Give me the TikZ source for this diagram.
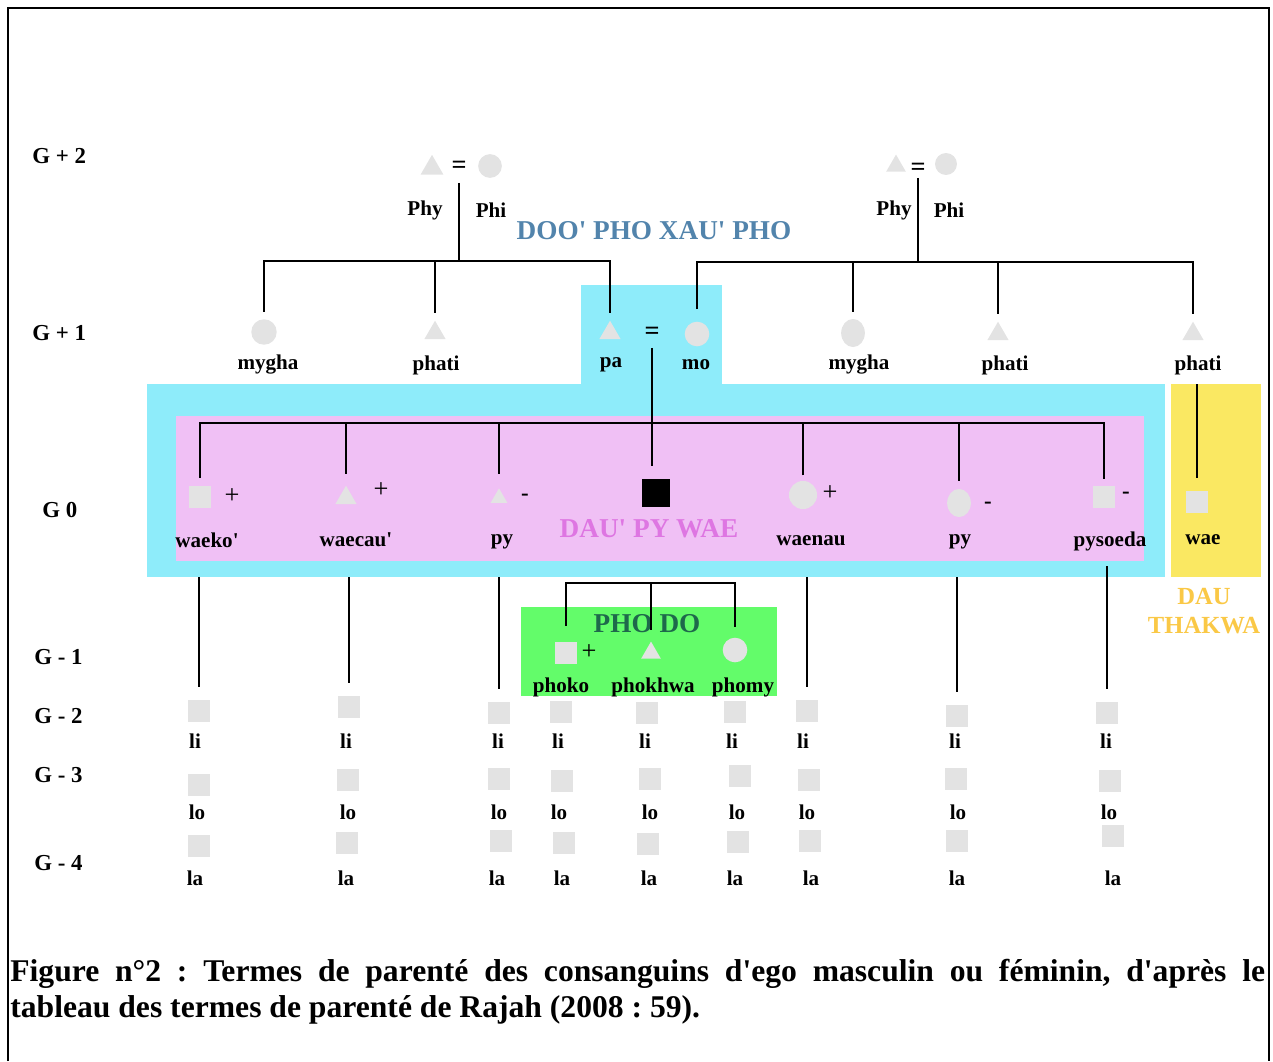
\documentclass[tikz,border=0pt]{standalone}
\usepackage{fontspec}
\setmainfont{Liberation Serif}[Ligatures=TeXOff]
\usetikzlibrary{shapes.geometric}

\definecolor{symgray}{RGB}{227,227,227}
\definecolor{boxcyan}{RGB}{142,236,250}
\definecolor{boxpink}{RGB}{240,192,245}
\definecolor{boxyellow}{RGB}{250,232,98}
\definecolor{boxgreen}{RGB}{99,252,106}
\definecolor{txtblue}{RGB}{82,132,172}
\definecolor{txtpink}{RGB}{222,118,226}
\definecolor{txtgreen}{RGB}{30,105,75}
\definecolor{txtgold}{RGB}{250,200,70}

\begin{document}
\begin{tikzpicture}[x=0.02cm,y=-0.02cm,
  tri/.style={regular polygon,regular polygon sides=3,fill=symgray,inner sep=0pt,minimum size=15pt},
  circ/.style={circle,fill=symgray,inner sep=0pt,minimum size=14pt},
  oval/.style={ellipse,fill=symgray,inner sep=0pt,minimum width=13.5pt,minimum height=16pt},
  sq/.style={rectangle,fill=symgray,inner sep=0pt,minimum size=12.5pt},
  term/.style={font=\bfseries\fontsize{12}{14}\selectfont,inner sep=1pt},
  gen/.style={font=\bfseries\fontsize{13}{15}\selectfont,anchor=west,inner sep=0pt},
  sign/.style={font=\fontsize{15}{17}\selectfont,inner sep=0pt},
  minus/.style={font=\bfseries\fontsize{13}{15}\selectfont,inner sep=0pt},
  eq/.style={font=\bfseries\fontsize{15}{17}\selectfont,inner sep=0pt},
  title/.style={font=\bfseries\fontsize{15.5}{18}\selectfont,inner sep=0pt},
  ln/.style={line width=1.1pt}
]
\useasboundingbox (0,0) rectangle (1273,1061);
\draw[line width=1.2pt] (8,1061) -- (8,8) -- (1269,8) -- (1269,1061);

% coloured groups
\fill[boxcyan] (581,285) rectangle (722,384);
\fill[boxcyan] (147,384) coordinate (cyanN) rectangle (1165,577) coordinate (cyanS);
\fill[boxpink] (176,416) rectangle (1144,561) coordinate (pinkS);
\fill[boxyellow] (1171,384) coordinate (yelN) rectangle (1261,577);
\fill[boxgreen] (521,607) rectangle (777,696);

% generations
\node[gen] (g2) at (32,156) {G + 2};
\node[gen] (g1) at (32,333) {G + 1};
\node[gen] (g0) at (42,510) {G 0};
\node[gen] (gm1) at (34,657) {G - 1};
\node[gen] (gm2) at (34,716) {G - 2};
\node[gen] (gm3) at (34,775) {G - 3};
\node[gen] (gm4) at (34,863) {G - 4};

% G+2
\node[tri] (phyL) at (432,168) {};
\node[eq] (eqL) at (459,167) {=};
\node[circ,minimum size=13.5pt] (phiL) at (490,166) {};
\node[term] (phyLt) at (425,210) {Phy};
\node[term] (phiLt) at (491,210) {Phi};
\node[title,text=txtblue] (doo) at (654,231) {DOO' PHO XAU' PHO};

\node[tri,minimum size=13pt] (phyR) at (896,166) {};
\node[eq] (eqR) at (918,169) {=};
\node[circ,minimum size=12.5pt] (phiR) at (946,164) {};
\node[term] (phyRt) at (894,210) {Phy};
\node[term] (phiRt) at (949,210) {Phi};

% G+1
\node[circ,minimum size=14.5pt] (myL) at (264,332) {};
\node[term] (myLt) at (268,365) {mygha};
\node[tri,minimum size=14pt] (phL) at (435,333) {};
\node[term] (phLt) at (436,365) {phati};
\node[tri,minimum size=14pt] (pa) at (610,333) {};
\node[term] (pat) at (611,365) {pa};
\node[eq] (eqM) at (652,333) {=};
\node[circ] (mo) at (697,334) {};
\node[term] (mot) at (696,365) {mo};
\node[oval] (myR) at (853,333) {};
\node[term] (myRt) at (859,365) {mygha};
\node[tri,minimum size=14pt] (phR) at (998,334) {};
\node[term] (phRt) at (1005,365) {phati};
\node[tri,minimum size=14pt] (phR2) at (1193,334) {};
\node[term] (phR2t) at (1198,365) {phati};

% G 0
\node[sq] (wk) at (200,497) {};
\node[sign] (wkp) at (232,496) {+};
\node[term] (wkt) at (207,540) {waeko'};
\node[tri,minimum size=14pt] (wc) at (346,498) {};
\node[sign] (wcp) at (381,490) {+};
\node[term] (wct) at (356,540) {waecau'};
\node[tri,minimum size=11pt] (py1) at (499,498) {};
\node[minus] (py1m) at (525,497) {-};
\node[term] (py1t) at (502,542) {py};
\node[sq,fill=black,minimum size=16pt] (ego) at (656,493) {};
\node[title,text=txtpink] (dau) at (649,529) {DAU' PY WAE};
\node[circ,minimum size=16pt] (wn) at (803,495) {};
\node[sign] (wnp) at (830,493) {+};
\node[term] (wnt) at (811,541) {waenau};
\node[oval] (py2) at (959,503) {};
\node[minus] (py2m) at (988,505) {-};
\node[term] (py2t) at (960,542) {py};
\node[sq] (ps) at (1104,497) {};
\node[minus] (psm) at (1126,495) {-};
\node[term] (pst) at (1110,541) {pysoeda};
\node[sq] (wae) at (1197,502) {};
\node[term] (waet) at (1203,540) {wae};
\node[font=\bfseries\fontsize{14}{17}\selectfont,text=txtgold,align=center,inner sep=0pt] (thakwa) at (1204,611) {DAU\\THAKWA};

% G-1
\node[title,text=txtgreen] (phodo) at (647,624) {PHO DO};
\node[sq] (pk) at (566,653) {};
\node[sign] (pkp) at (589,652) {+};
\node[term] (pkt) at (561,687) {phoko};
\node[tri,minimum size=13pt] (pw) at (651,653) {};
\node[term] (pwt) at (653,687) {phokhwa};
\node[circ] (pm) at (735,650) {};
\node[term] (pmt) at (743,687) {phomy};

% G-2 to G-4
\node[sq] (li1) at (199,711) {}; \node[term] (li1t) at (195,741) {li};
\node[sq] (lo1) at (199,785) {}; \node[term] (lo1t) at (197,812) {lo};
\node[sq] (la1) at (199,846) {}; \node[term] (la1t) at (195,878) {la};
\node[sq] (li2) at (349,707) {}; \node[term] (li2t) at (346,741) {li};
\node[sq] (lo2) at (348,780) {}; \node[term] (lo2t) at (348,812) {lo};
\node[sq] (la2) at (347,843) {}; \node[term] (la2t) at (346,878) {la};
\node[sq] (li3) at (499,713) {}; \node[term] (li3t) at (498,741) {li};
\node[sq] (lo3) at (499,779) {}; \node[term] (lo3t) at (499,812) {lo};
\node[sq] (la3) at (501,841) {}; \node[term] (la3t) at (497,878) {la};
\node[sq] (li4) at (561,712) {}; \node[term] (li4t) at (558,741) {li};
\node[sq] (lo4) at (562,781) {}; \node[term] (lo4t) at (559,812) {lo};
\node[sq] (la4) at (564,843) {}; \node[term] (la4t) at (562,878) {la};
\node[sq] (li5) at (647,713) {}; \node[term] (li5t) at (645,741) {li};
\node[sq] (lo5) at (650,779) {}; \node[term] (lo5t) at (650,812) {lo};
\node[sq] (la5) at (648,844) {}; \node[term] (la5t) at (649,878) {la};
\node[sq] (li6) at (735,712) {}; \node[term] (li6t) at (732,741) {li};
\node[sq] (lo6) at (740,776) {}; \node[term] (lo6t) at (737,812) {lo};
\node[sq] (la6) at (738,842) {}; \node[term] (la6t) at (735,878) {la};
\node[sq] (li7) at (807,711) {}; \node[term] (li7t) at (803,741) {li};
\node[sq] (lo7) at (809,780) {}; \node[term] (lo7t) at (807,812) {lo};
\node[sq] (la7) at (810,841) {}; \node[term] (la7t) at (811,878) {la};
\node[sq] (li8) at (957,716) {}; \node[term] (li8t) at (955,741) {li};
\node[sq] (lo8) at (956,779) {}; \node[term] (lo8t) at (958,812) {lo};
\node[sq] (la8) at (957,841) {}; \node[term] (la8t) at (957,878) {la};
\node[sq] (li9) at (1107,713) {}; \node[term] (li9t) at (1106,741) {li};
\node[sq] (lo9) at (1110,781) {}; \node[term] (lo9t) at (1109,812) {lo};
\node[sq] (la9) at (1113,836) {}; \node[term] (la9t) at (1113,878) {la};

% descent lines
\coordinate (barL) at (459,261);
\coordinate (barR) at (918,262);
\coordinate (bar0) at (652,423);
\coordinate (barP) at (651,583);
\draw[ln] ([yshift=-9pt]eqL.center) -- (barL);
\draw[ln] ([yshift=4pt]myL.north) |- (barL) -| ([yshift=4pt]pa.north);
\draw[ln] ([yshift=4pt]phL.north) -- (phL |- barL);
\draw[ln] ([yshift=-5pt]eqR.center) -- (barR);
\draw[ln] ([yshift=7pt]mo.north) |- (barR) -| ([yshift=4pt]phR2.north);
\draw[ln] ([yshift=4pt]myR.north) -- (myR |- barR);
\draw[ln] ([yshift=4pt]phR.north) -- (phR |- barR);
\draw[ln,shorten >=7pt] ([yshift=-8.5pt]eqM.center) -- (eqM |- ego.north);
\draw[ln] ([yshift=4.5pt]wk.north) |- (bar0) -| ([yshift=4pt]ps.north);
\draw[ln] ([yshift=6.5pt]wc.north) -- (wc |- bar0);
\draw[ln] ([yshift=8pt]py1.north) -- (py1 |- bar0);
\draw[ln] ([yshift=3pt]wn.north) -- (wn |- bar0);
\draw[ln] ([yshift=4.5pt]py2.north) -- (py2 |- bar0);
\draw[ln] (wae |- yelN) -- ([yshift=7pt]wae.north);
\draw[ln] (li1 |- cyanS) -- ([yshift=7pt]li1.north);
\draw[ln] (li2 |- cyanS) -- ([yshift=7pt]li2.north);
\draw[ln] (li3 |- cyanS) -- ([yshift=7pt]li3.north);
\draw[ln] (li7 |- cyanS) -- ([yshift=7pt]li7.north);
\draw[ln] (li8 |- cyanS) -- ([yshift=7pt]li8.north);
\draw[ln] ([yshift=-3pt]li9 |- pinkS) -- ([yshift=7pt]li9.north);
\draw[ln] ([yshift=9pt]pk.north) |- (barP) -| ([yshift=6pt]pm.north);
\draw[ln] (barP) -- ([yshift=6pt]pw.north);

% caption
\node[anchor=north west,inner sep=0pt,text width=25.1cm,align=justify,
  font=\bfseries\fontsize{18}{20.5}\selectfont] (cap) at (10,959)
  {\frenchspacing Figure n°2 : Termes de parenté des consanguins d'ego masculin ou féminin, d'après le\linebreak
   tableau des termes de parenté de Rajah (2008 : 59).};
\end{tikzpicture}
\end{document}
